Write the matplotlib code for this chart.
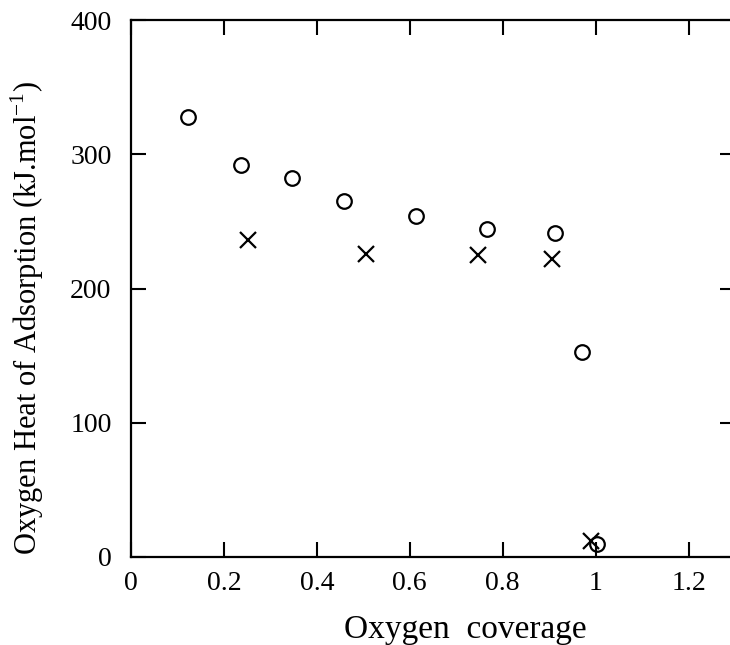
import matplotlib
matplotlib.use("Agg")
import matplotlib.pyplot as plt

# oxygen coverage vs heat of adsorption
circ_x = [0.123, 0.237, 0.346, 0.458, 0.613, 0.766, 0.912, 0.970, 1.004]
circ_y = [328, 292, 282, 265, 254, 244, 241, 153, 10]
cross_x = [0.252, 0.505, 0.746, 0.907, 0.989]
cross_y = [236, 226, 225, 222, 12]

xticks = [0, 0.2, 0.4, 0.6, 0.8, 1.0, 1.2]
xlabels = ["0", "0.2", "0.4", "0.6", "0.8", "1", "1.2"]
yticks = [0, 100, 200, 300, 400]

plt.rcParams['font.family'] = ['Liberation Serif', 'DejaVu Serif']
plt.rcParams['mathtext.fontset'] = 'custom'
plt.rcParams['mathtext.rm'] = 'Liberation Serif'

fig = plt.figure(figsize=(7.3, 6.45), dpi=100)
ax = fig.add_axes([131/730, 1 - 557/645, (735-131)/730, (557-20)/645])

ax.plot(circ_x, circ_y, 'o', ms=10.5, mfc='none', mec='black', mew=1.6, clip_on=False)
ax.plot(cross_x, cross_y, 'x', ms=11, mec='black', mew=1.6, clip_on=False)

ax.set_xlim(0, 1.3)
ax.set_ylim(0, 400)
ax.set_xticks(xticks)
ax.set_xticklabels(xlabels)
ax.set_yticks(yticks)
ax.tick_params(direction='in', length=11, width=1.5, top=True, right=True, labelsize=20)
ax.tick_params(axis='x', pad=10)
ax.tick_params(axis='y', pad=14)
for s in ax.spines.values():
    s.set_linewidth(1.6)

fig.text(465/730, 1 - 638/645, "Oxygen  coverage", fontsize=24, ha='center', va='baseline')
fig.text(27/730, 1 - 318/645, "Oxygen Heat of Adsorption (kJ.mol$^{\\mathrm{-1}}$)",
         fontsize=22, rotation=90, ha='center', va='center')

fig.savefig("out.png", dpi=100)
